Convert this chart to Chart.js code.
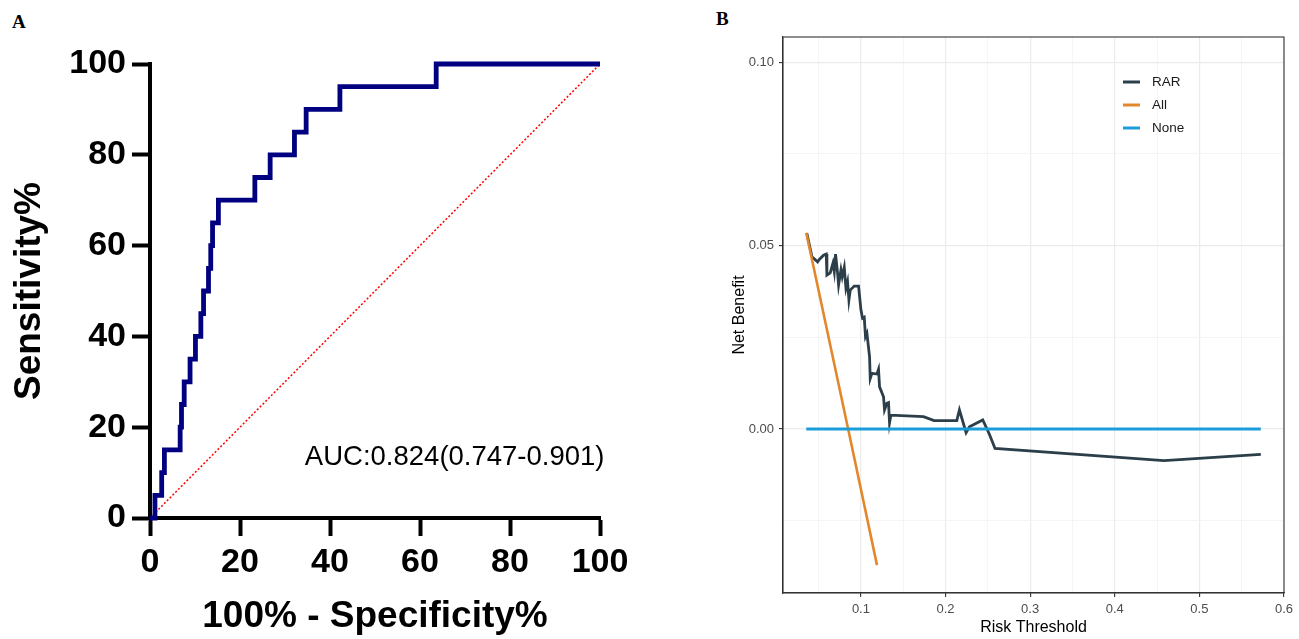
<!DOCTYPE html>
<html>
<head>
<meta charset="utf-8">
<script src="https://cdn.jsdelivr.net/npm/chart.js@4.4.1/dist/chart.umd.min.js"></script>
<style>
 body { margin:0; background:#fff; width:1299px; height:639px; position:relative; overflow:hidden; }
 canvas { position:absolute; top:0; }
 #g1 { left:0; }
 #g2 { left:650px; }
 .tag { position:absolute; font-family:"Liberation Serif","Times New Roman",serif; font-weight:bold; font-size:19px; line-height:19px; }
</style>
</head>
<body>
<div class="tag" style="left:12px;top:12px">A</div>
<div class="tag" style="left:716px;top:9px">B</div>
<canvas id="g1" width="650" height="639"></canvas>
<canvas id="g2" width="649" height="639"></canvas>
<script>
// Painel A - curva ROC
const rocFpr = [0, 1.1, 2.6, 3.2, 6.7, 7.0, 7.6, 8.9, 10.1, 11.3, 11.9, 13.0, 13.5, 13.9, 15.2, 23.3, 26.7, 32.1, 34.7, 42.2, 63.6, 100];
const rocTpr = [0, 5, 10, 15, 20, 25, 30, 35, 40, 45, 50, 55, 60, 65, 70, 75, 80, 85, 90, 95, 100, 100];
const refLine = [0, 100];
const rocTicks = [0, 20, 40, 60, 80, 100];
const aucText = 'AUC:0.824(0.747-0.901)';

// Painel B - curva de decisao (DCA)
const rarX = [0.0361, 0.0421, 0.0488, 0.0511, 0.0558, 0.0590, 0.0598, 0.0637, 0.0669, 0.0685, 0.0700, 0.0724, 0.0736, 0.0764, 0.0779, 0.0803, 0.0823, 0.0842, 0.0858, 0.0874, 0.0921, 0.0972, 0.1000, 0.1019, 0.1039, 0.1054, 0.1071, 0.1102, 0.1110, 0.1130, 0.1189, 0.1208, 0.1220, 0.1267, 0.1279, 0.1307, 0.1326, 0.1338, 0.1354, 0.1739, 0.1865, 0.2133, 0.2164, 0.2243, 0.2282, 0.2440, 0.2518, 0.2585, 0.4582, 0.5726];
const rarY = [0.0534, 0.0470, 0.0456, 0.0463, 0.0474, 0.0477, 0.0420, 0.0426, 0.0452, 0.0429, 0.0477, 0.0425, 0.0393, 0.0434, 0.0415, 0.0441, 0.0384, 0.0402, 0.0352, 0.0379, 0.0390, 0.0390, 0.0325, 0.0302, 0.0305, 0.0252, 0.0261, 0.0197, 0.0138, 0.0152, 0.0150, 0.0163, 0.0115, 0.0088, 0.0052, 0.0070, 0.0072, 0.0017, 0.0038, 0.0034, 0.0023, 0.0023, 0.0052, -0.0010, 0.0006, 0.0025, -0.0014, -0.0053, -0.0086, -0.0069];
const allX = [0.0354, 0.0849, 0.119];
const allY = [0.0535, 0, -0.0371];
const noneX = [0.0354, 0.5726];
const noneY = [0, 0];
const dcaLabels = ['RAR', 'All', 'None'];
const dcaColors = ['#2B3E4A', '#E3872D', '#1A9DD8'];
const dcaXGrid = [0.05, 0.1, 0.15, 0.2, 0.25, 0.3, 0.35, 0.4, 0.45, 0.5, 0.55, 0.6];
const dcaYGrid = [-0.025, 0, 0.025, 0.05, 0.075, 0.1];

const pts = (xs, ys) => xs.map((x, i) => ({ x: x, y: ys[i] }));
const fonte = '"Liberation Sans", Arial, sans-serif';

// texto AUC no grafico A
const textoAUC = {
    id: 'textoAUC',
    afterDatasetsDraw(chart) {
        const c = chart.ctx;
        const x = chart.scales.x.getPixelForValue(101);
        const y = chart.scales.y.getPixelForValue(13.4);
        c.save();
        c.font = '27.5px ' + fonte;
        c.fillStyle = '#000';
        c.textAlign = 'right';
        c.textBaseline = 'middle';
        c.fillText(aucText, x, y);
        c.restore();
    }
};

new Chart(document.getElementById('g1'), {
    type: 'line',
    data: {
        datasets: [
            {
                data: pts(rocFpr, rocTpr),
                borderColor: '#000080',
                borderWidth: 4.8,
                stepped: 'before',
                pointRadius: 0,
                borderJoinStyle: 'miter',
                clip: false
            },
            {
                data: pts(refLine, refLine),
                borderColor: '#FF0000',
                borderWidth: 1.5,
                borderDash: [2, 2],
                pointRadius: 0
            }
        ]
    },
    options: {
        responsive: false,
        animation: false,
        layout: { padding: { left: 0, right: 50, top: 64, bottom: 0 } },
        plugins: { legend: { display: false }, tooltip: { enabled: false } },
        scales: {
            x: {
                type: 'linear', min: 0, max: 100,
                afterBuildTicks: s => { s.ticks = rocTicks.map(v => ({ value: v })); },
                afterFit: s => { s.height = 121; },
                border: { color: '#000', width: 4 },
                grid: { drawOnChartArea: false, tickLength: 18, tickWidth: 4, tickColor: '#000' },
                ticks: { color: '#000', padding: 6, maxRotation: 0, font: { family: fonte, size: 34, weight: 'bold' } },
                title: { display: true, text: '100% - Specificity%', color: '#000', padding: { top: 0, bottom: 0 }, font: { family: fonte, size: 37, weight: 'bold' } }
            },
            y: {
                type: 'linear', min: 0, max: 100,
                afterBuildTicks: s => { s.ticks = rocTicks.map(v => ({ value: v })); },
                afterFit: s => { s.width = 150; },
                border: { color: '#000', width: 4 },
                grid: { drawOnChartArea: false, tickLength: 18, tickWidth: 4, tickColor: '#000' },
                ticks: { color: '#000', padding: 6, font: { family: fonte, size: 34, weight: 'bold' } },
                title: { display: true, text: 'Sensitivity%', color: '#000', padding: { top: 8, bottom: 0 }, font: { family: fonte, size: 37, weight: 'bold' } }
            }
        }
    },
    plugins: [textoAUC]
});

// moldura e legenda do grafico B
const molduraLegenda = {
    id: 'molduraLegenda',
    afterDatasetsDraw(chart) {
        const c = chart.ctx;
        const a = chart.chartArea;
        c.save();
        c.strokeStyle = '#333';
        c.lineWidth = 1.1;
        c.strokeRect(a.left, a.top, a.right - a.left, a.bottom - a.top);
        c.font = '13.5px ' + fonte;
        c.textBaseline = 'middle';
        dcaLabels.forEach((lab, i) => {
            const y = a.top + 45 + i * 23;
            c.strokeStyle = dcaColors[i];
            c.lineWidth = 3;
            c.beginPath();
            c.moveTo(a.left + 340, y);
            c.lineTo(a.left + 357, y);
            c.stroke();
            c.fillStyle = '#1a1a1a';
            c.fillText(lab, a.left + 369, y);
        });
        c.restore();
    }
};

const ehMaior = v => Math.round(v * 100) % 10 === 0;
const ehMaiorY = v => Math.round(v * 1000) % 50 === 0;

new Chart(document.getElementById('g2'), {
    type: 'line',
    data: {
        datasets: [
            { label: dcaLabels[0], data: pts(rarX, rarY), borderColor: dcaColors[0], borderWidth: 2.8, pointRadius: 0, order: 2 },
            { label: dcaLabels[1], data: pts(allX, allY), borderColor: dcaColors[1], borderWidth: 2.6, pointRadius: 0, order: 1 },
            { label: dcaLabels[2], data: pts(noneX, noneY), borderColor: dcaColors[2], borderWidth: 3, pointRadius: 0, order: 0 }
        ]
    },
    options: {
        responsive: false,
        animation: false,
        layout: { padding: { left: 0, right: 15, top: 37, bottom: 0 } },
        plugins: { legend: { display: false }, tooltip: { enabled: false } },
        scales: {
            x: {
                type: 'linear', min: 0.0079, max: 0.6,
                afterBuildTicks: s => { s.ticks = dcaXGrid.map(v => ({ value: v })); },
                afterFit: s => { s.height = 46; },
                border: { color: '#333', width: 1.1 },
                grid: {
                    color: ctx => ehMaior(ctx.tick.value) ? '#EBEBEB' : '#F2F2F2',
                    lineWidth: ctx => ehMaior(ctx.tick.value) ? 1.2 : 0.8,
                    tickColor: ctx => ehMaior(ctx.tick.value) ? '#333' : 'rgba(0,0,0,0)',
                    tickLength: 4, tickWidth: 1.1
                },
                ticks: {
                    color: '#4D4D4D', padding: 5, maxRotation: 0, autoSkip: false,
                    font: { family: fonte, size: 13 },
                    callback: v => ehMaior(v) ? v.toFixed(1) : ''
                },
                title: { display: true, text: 'Risk Threshold', color: '#000', padding: { top: 0, bottom: 2 }, font: { family: fonte, size: 16 } }
            },
            y: {
                type: 'linear', min: -0.0447, max: 0.1069,
                afterBuildTicks: s => { s.ticks = dcaYGrid.map(v => ({ value: v })); },
                afterFit: s => { s.width = 133; },
                border: { color: '#333', width: 1.1 },
                grid: {
                    color: ctx => ehMaiorY(ctx.tick.value) ? '#EBEBEB' : '#F2F2F2',
                    lineWidth: ctx => ehMaiorY(ctx.tick.value) ? 1.2 : 0.8,
                    tickColor: ctx => ehMaiorY(ctx.tick.value) ? '#333' : 'rgba(0,0,0,0)',
                    tickLength: 4, tickWidth: 1.1
                },
                ticks: {
                    color: '#4D4D4D', padding: 5, autoSkip: false,
                    font: { family: fonte, size: 13 },
                    callback: v => ehMaiorY(v) ? v.toFixed(2) : ''
                },
                title: { display: true, text: 'Net Benefit', color: '#000', padding: { top: 80, bottom: 0 }, font: { family: fonte, size: 16 } }
            }
        }
    },
    plugins: [molduraLegenda]
});
</script>
</body>
</html>
